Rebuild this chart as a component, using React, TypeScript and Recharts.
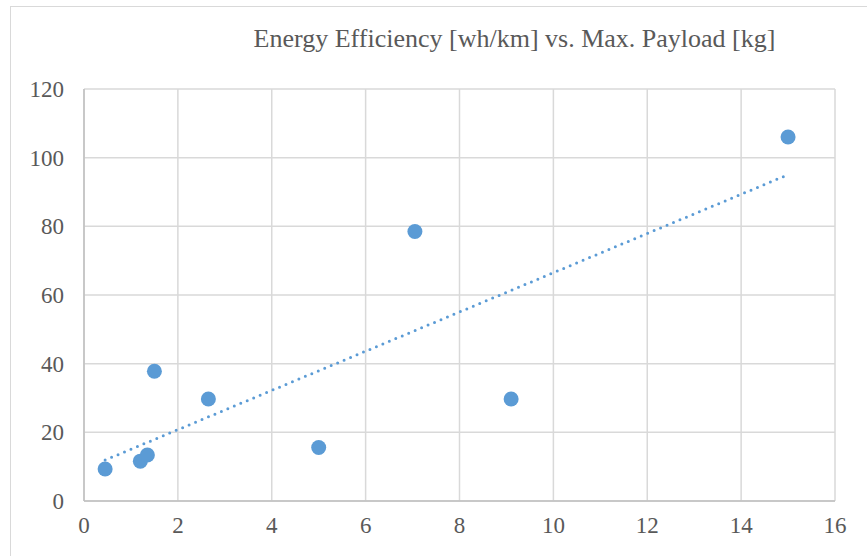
import { ScatterChart, Scatter, XAxis, YAxis, CartesianGrid, ReferenceLine } from 'recharts';

const payload = [0.45, 1.2, 1.35, 1.5, 2.65, 5.0, 7.05, 9.1, 15.0];
const efficiency = [9.3, 11.6, 13.4, 37.8, 29.7, 15.6, 78.5, 29.7, 106];
const xTicks = [0, 2, 4, 6, 8, 10, 12, 14, 16];
const yTicks = [0, 20, 40, 60, 80, 100, 120];

const TITLE = 'Energy Efficiency [wh/km] vs. Max. Payload [kg]';
const BLUE = '#5B9BD5';
const TEXT = '#595959';
const GRID = '#D9D9D9';
const FONT = '"Liberation Serif", "Times New Roman", serif';

const points = payload.map((x, i) => ({ x, y: efficiency[i] }));

// linear least-squares trendline, like Excel's
function linearFit(xs: number[], ys: number[]) {
  const n = xs.length;
  const mx = xs.reduce((a, b) => a + b, 0) / n;
  const my = ys.reduce((a, b) => a + b, 0) / n;
  let sxy = 0;
  let sxx = 0;
  for (let i = 0; i < n; i++) {
    sxy += (xs[i] - mx) * (ys[i] - my);
    sxx += (xs[i] - mx) ** 2;
  }
  const slope = sxy / sxx;
  return { slope, intercept: my - slope * mx };
}

const fit = linearFit(payload, efficiency);
const xMin = Math.min(...payload);
const xMax = Math.max(...payload);
const trendSegment = [
  { x: xMin, y: fit.intercept + fit.slope * xMin },
  { x: xMax, y: fit.intercept + fit.slope * xMax },
];

const tickStyle = { fontSize: 23, fill: TEXT, fontFamily: FONT };

export default function App() {
  return (
    <div style={{ position: 'absolute', left: 0, top: 0, width: 867, height: 556, overflow: 'hidden', background: '#fff' }}>
      <div
        style={{
          position: 'absolute',
          left: 10,
          top: 6,
          width: 900,
          height: 600,
          border: `1.5px solid ${GRID}`,
        }}
      />
      <div
        style={{
          position: 'absolute',
          left: 0,
          top: 26,
          width: 1029,
          textAlign: 'center',
          fontFamily: FONT,
          fontSize: 26,
          lineHeight: 1,
          color: TEXT,
          whiteSpace: 'nowrap',
        }}
      >
        {TITLE}
      </div>
      <div style={{ position: 'absolute', left: 0, top: 0 }}>
        <ScatterChart width={867} height={556} margin={{ top: 89, right: 32, left: 24, bottom: 25 }}>
          <CartesianGrid stroke={GRID} strokeWidth={1.5} />
          <XAxis
            type="number"
            dataKey="x"
            domain={[0, 16]}
            ticks={xTicks}
            interval={0}
            height={30}
            tickLine={false}
            tickSize={0}
            tickMargin={16}
            axisLine={{ stroke: '#BFBFBF', strokeWidth: 1.5 }}
            tick={tickStyle}
          />
          <YAxis
            type="number"
            dataKey="y"
            domain={[0, 120]}
            ticks={yTicks}
            interval={0}
            width={60}
            tickLine={false}
            tickSize={0}
            tickMargin={20}
            axisLine={{ stroke: '#BFBFBF', strokeWidth: 1.5 }}
            tick={tickStyle}
          />
          <ReferenceLine
            segment={trendSegment}
            stroke={BLUE}
            strokeWidth={3}
            strokeDasharray="0 7"
            strokeLinecap="round"
            ifOverflow="visible"
          />
          <Scatter
            data={points}
            fill={BLUE}
            isAnimationActive={false}
            shape={(props: any) => <circle cx={props.cx} cy={props.cy} r={7.5} fill={BLUE} />}
          />
        </ScatterChart>
      </div>
    </div>
  );
}
